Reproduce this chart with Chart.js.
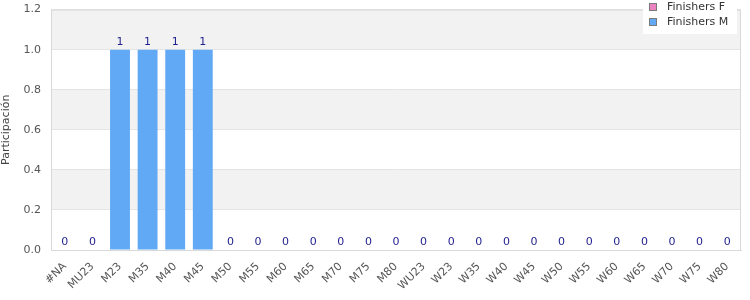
<!DOCTYPE html>
<html>
<head>
<meta charset="utf-8">
<script src="https://cdn.jsdelivr.net/npm/chart.js@4"></script>
<style>
  html, body { margin: 0; padding: 0; background: #fff; }
  #wrap { width: 750px; height: 300px; }
</style>
</head>
<body>
<div id="wrap"><canvas id="chart"></canvas></div>
<script>
// data
var categories = ['#NA', 'MU23', 'M23', 'M35', 'M40', 'M45', 'M50', 'M55', 'M60', 'M65', 'M70', 'M75', 'M80',
  'WU23', 'W23', 'W35', 'W40', 'W45', 'W50', 'W55', 'W60', 'W65', 'W70', 'W75', 'W80'];
var finishersF = [0, 0, 0, 0, 0, 0, 0, 0, 0, 0, 0, 0, 0, 0, 0, 0, 0, 0, 0, 0, 0, 0, 0, 0, 0];
var finishersM = [0, 0, 1, 1, 1, 1, 0, 0, 0, 0, 0, 0, 0, 0, 0, 0, 0, 0, 0, 0, 0, 0, 0, 0, 0];
var seriesNames = ['Finishers F', 'Finishers M'];
var yTicks = [0, 0.2, 0.4, 0.6, 0.8, 1.0, 1.2];

var FONT = "'DejaVu Sans', sans-serif";

// grey stripes behind the bars
var bandsPlugin = {
  id: 'bands',
  beforeDraw: function(chart) {
    var ctx = chart.ctx, a = chart.chartArea, y = chart.scales.y;
    ctx.save();
    for (var i = 0; i < yTicks.length - 1; i++) {
      if (i % 2 == 1) {
        var top = y.getPixelForValue(yTicks[i + 1]);
        var bot = y.getPixelForValue(yTicks[i]);
        ctx.fillStyle = '#f2f2f2';
        ctx.fillRect(a.left, top, a.right - a.left, bot - top);
      }
    }
    ctx.restore();
  },
  afterDraw: function(chart) {
    var a = chart.chartArea, ctx = chart.ctx;
    ctx.save();
    ctx.strokeStyle = '#d9d9d9';
    ctx.lineWidth = 1;
    ctx.strokeRect(a.left + 0.5, a.top + 0.5, a.right - a.left - 1, a.bottom - a.top);
    ctx.restore();
  }
};

// value labels above the bars (M series)
var labelsPlugin = {
  id: 'valueLabels',
  afterDatasetsDraw: function(chart) {
    var ctx = chart.ctx;
    var meta = chart.getDatasetMeta(1);
    ctx.save();
    ctx.font = '11px ' + FONT;
    ctx.fillStyle = '#1f1f8f';
    ctx.textAlign = 'center';
    ctx.textBaseline = 'bottom';
    meta.data.forEach(function(bar, i) {
      ctx.fillText(String(finishersM[i]), bar.x, bar.y - 2);
    });
    ctx.restore();
  }
};

// legend drawn over the top right corner
var legendPlugin = {
  id: 'cornerLegend',
  afterDraw: function(chart) {
    var ctx = chart.ctx;
    ctx.save();
    ctx.fillStyle = '#fff';
    ctx.fillRect(643, 0, 94, 34);
    ctx.font = '11px ' + FONT;
    ctx.textBaseline = 'middle';
    chart.data.datasets.forEach(function(ds, i) {
      var cy = 7 + i * 15;
      ctx.fillStyle = ds.backgroundColor;
      ctx.fillRect(649.5, cy - 3.5, 7, 7);
      ctx.strokeStyle = '#7a7a7a';
      ctx.lineWidth = 1;
      ctx.strokeRect(649.5, cy - 3.5, 7, 7);
      ctx.fillStyle = '#333';
      ctx.fillText(ds.label, 667, cy + 0.5);
    });
    ctx.restore();
  }
};

new Chart(document.getElementById('chart'), {
  type: 'bar',
  data: {
    labels: categories,
    datasets: [
      { label: seriesNames[0], data: finishersF, backgroundColor: '#ec82c0' },
      { label: seriesNames[1], data: finishersM, backgroundColor: '#62a9f5' }
    ]
  },
  options: {
    responsive: true,
    maintainAspectRatio: false,
    animation: false,
    layout: { padding: { top: 0, right: 9, left: 0, bottom: 0 } },
    categoryPercentage: 0.8,
    barPercentage: 0.9,
    plugins: {
      legend: { display: false },
      tooltip: { enabled: false }
    },
    scales: {
      x: {
        stacked: true,
        grid: { display: false },
        border: { color: '#d9d9d9' },
        ticks: {
          color: '#555',
          font: { family: FONT, size: 11 },
          minRotation: 45,
          maxRotation: 45,
          autoSkip: false,
          padding: 2
        },
        afterFit: function(scale) { scale.height = 50; }
      },
      y: {
        stacked: true,
        min: 0,
        max: 1.2,
        grid: { color: '#e4e4e4', drawTicks: true, tickLength: 7, tickColor: 'rgba(0,0,0,0)' },
        border: { color: '#d9d9d9' },
        ticks: {
          stepSize: 0.2,
          color: '#555',
          padding: 3,
          font: { family: FONT, size: 11 },
          callback: function(v) { return v.toFixed(1); }
        },
        title: {
          display: true,
          text: 'Participación',
          color: '#444',
          font: { family: FONT, size: 11 },
          padding: { top: 0, bottom: 0 }
        },
        afterFit: function(scale) { scale.width = 51; }
      }
    }
  },
  plugins: [bandsPlugin, labelsPlugin, legendPlugin]
});
</script>
</body>
</html>
